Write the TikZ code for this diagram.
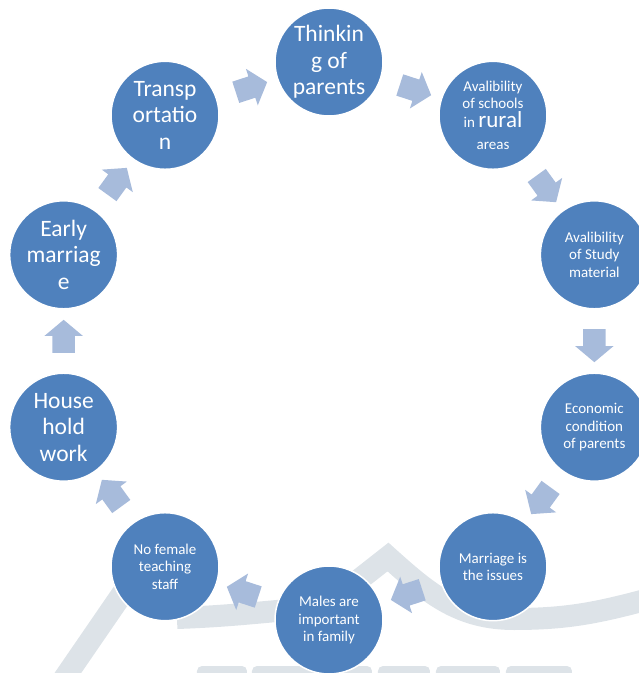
\documentclass[tikz,border=0pt]{standalone}
\usepackage{fontspec}
\setmainfont{Carlito}
\usetikzlibrary{shapes.arrows}

\definecolor{bubblue}{RGB}{79,129,189}
\definecolor{flowblue}{RGB}{167,187,219}
\definecolor{wmgray}{RGB}{221,227,232}

\begin{document}
\begin{tikzpicture}[
    x=1pt, y=1pt,
    bubble/.style={circle, fill=bubblue, draw=white, line width=1.5pt, minimum size=108pt, inner sep=0pt, text=white, align=center},
    bigtxt/.style={font=\fontsize{23.5}{26.5}\selectfont},
    smalltxt/.style={font=\fontsize{15}{17.5}\selectfont},
    flow/.style={single arrow, fill=flowblue, draw=none, minimum height=33pt, inner xsep=0pt, inner ysep=11pt, single arrow head extend=8pt, single arrow tip angle=100, sloped, allow upside down},
]
    \useasboundingbox (-329,-332) rectangle (310,341);

    % faint watermark behind the cycle
    \begin{scope}[draw=wmgray, line width=22pt]
      \draw (-268,-342) -- (-200,-243);
      \draw (-152,-277) to[out=2,in=185] (-30,-268);
      \draw[line join=miter] (8,-256) -- (59,-216) to[out=-42,in=180] (185,-278) to[out=0,in=195] (320,-258);
    \end{scope}
    \begin{scope}[fill=wmgray, rounded corners=5pt]
      \fill (-132,-345) rectangle (-82,-325);
      \fill (-77,-345) rectangle (-7,-325);
      \fill (-1,-345) rectangle (43,-325);
      \fill (49,-345) rectangle (101,-325);
      \fill (107,-345) rectangle (171,-325);
      \fill (177,-345) rectangle (243,-325);
    \end{scope}

    % the ten causes
    \node[bubble, bigtxt] (think) at (90:279pt) {Thinkin\\g of\\parents};
    \node[bubble, smalltxt] (school) at (54:279pt) {Avalibility\\of schools\\[1.5pt]in {\fontsize{23}{26}\selectfont rural}\\[4.5pt]areas};
    \node[bubble, smalltxt] (study) at (18:279pt) {Avalibility\\of Study\\material};
    \node[bubble, smalltxt] (econ) at (-18:279pt) {Economic\\condition\\of parents};
    \node[bubble, smalltxt] (issue) at (-54:279pt) {Marriage is\\the issues};
    \node[bubble, smalltxt] (males) at (-90:279pt) {Males are\\important\\in family};
    \node[bubble, smalltxt] (staff) at (-126:279pt) {No female\\teaching\\staff};
    \node[bubble, bigtxt] (house) at (-162:279pt) {House\\hold\\work};
    \node[bubble, bigtxt] (early) at (162:279pt) {Early\\marriag\\e};
    \node[bubble, bigtxt] (trans) at (126:279pt) {Transp\\ortatio\\n};

    % block arrows, clockwise
    \path (think) -- node[flow] {} (school);
    \path (school) -- node[flow] {} (study);
    \path (study) -- node[flow] {} (econ);
    \path (econ) -- node[flow] {} (issue);
    \path (issue) -- node[flow] {} (males);
    \path (males) -- node[flow] {} (staff);
    \path (staff) -- node[flow] {} (house);
    \path (house) -- node[flow] {} (early);
    \path (early) -- node[flow] {} (trans);
    \path (trans) -- node[flow] {} (think);
\end{tikzpicture}
\end{document}
